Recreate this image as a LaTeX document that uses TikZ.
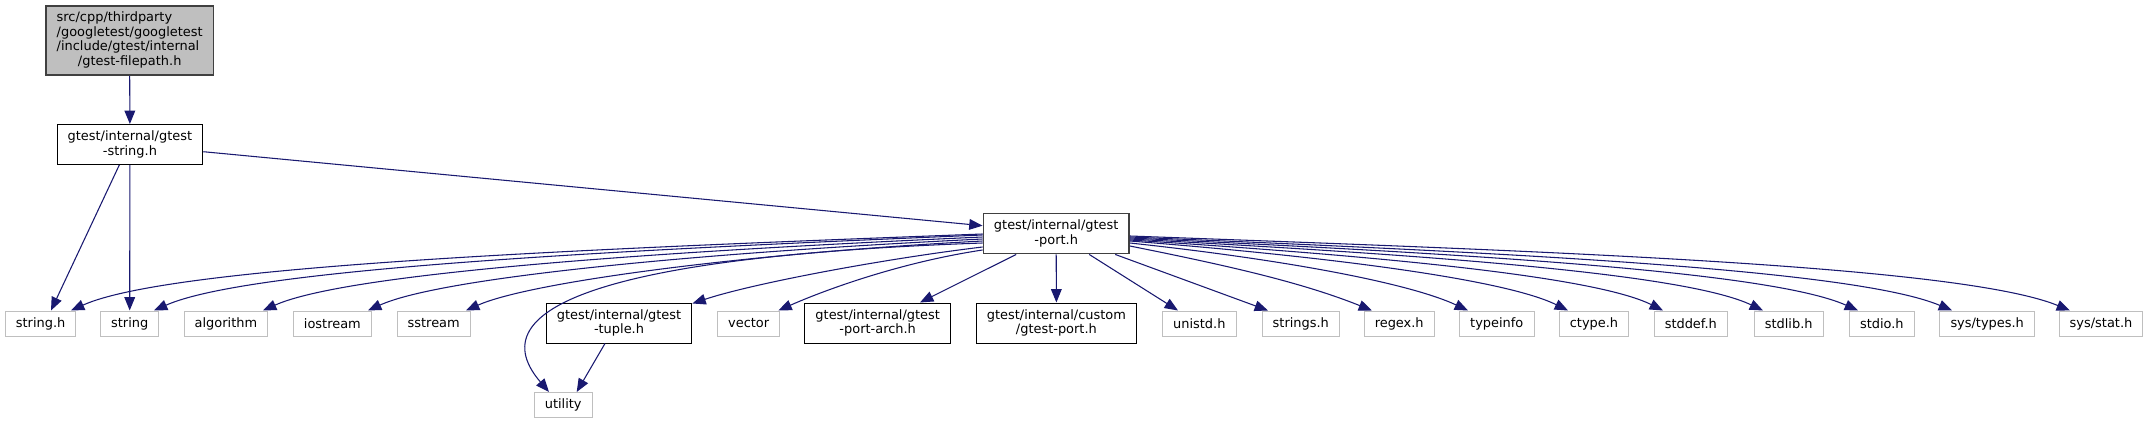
\documentclass[tikz,border=0pt]{standalone}
\usepackage{fontspec}
\setmainfont{DejaVu Sans}
\usepackage{tikz}
\usetikzlibrary{arrows.meta,positioning,calc}
\usepackage{xcolor}
\definecolor{edgeblue}{HTML}{191970}
\definecolor{boxgray} {HTML}{BFBFBF}
\definecolor{rimgray} {HTML}{404040}

\begin{document}
\begin{tikzpicture}[
      x=0.75pt, y=-0.75pt,
      every node/.style={font=\fontsize{9.7}{11}\selectfont},
      hdr/.style={
        draw=black, line width=0.75pt,
        inner xsep=8pt, inner ysep=0pt,
        minimum height=30pt, align=center
      },
      sys/.style={
        draw=boxgray, line width=0.75pt,
        inner xsep=8pt, inner ysep=0pt,
        minimum height=18.75pt
      },
      cur/.style={hdr, draw=rimgray, line width=1.1pt},
      dep/.style={edgeblue, line width=0.8pt, -{Triangle[length=10pt,width=8pt]}}
    ]
      \useasboundingbox (0,0) rectangle (2150,424);

      % headers
      \node[cur, fill=boxgray, minimum height=52pt] (root) at (129.7,40.5)
        {\begin{tabular}{@{}l@{}}src/cpp/thirdparty\\/googletest/googletest\\/include/gtest/internal\\\multicolumn{1}{@{}c@{}}{/gtest-filepath.h}\end{tabular}};
      \node[hdr] (gstring) at (129.9,144.5) {gtest/internal/gtest\\-string.h};
      \node[cur] (port) at (1056.2,233.7) {gtest/internal/gtest\\-port.h};

      \node[hdr] (tuple)    at (619,323)    {gtest/internal/gtest\\-tuple.h};
      \node[hdr] (portarch) at (877.7,323)  {gtest/internal/gtest\\-port-arch.h};
      \node[hdr] (custom)   at (1056.4,323) {gtest/internal/custom\\/gtest-port.h};

      % system headers
      \node[sys] (stringh)   at (40.6,323.5)   {string.h};
      \node[sys] (string)    at (129.7,323.5)  {string};
      \node[sys] (algorithm) at (225.9,323.5)  {algorithm};
      \node[sys] (iostream)  at (332.4,323.5)  {iostream};
      \node[sys] (sstream)   at (433.7,323.5)  {sstream};
      \node[sys] (vector)    at (748.7,323.5)  {vector};
      \node[sys] (unistd)    at (1199.3,323.5) {unistd.h};
      \node[sys] (strings)   at (1300.8,323.5) {strings.h};
      \node[sys] (regex)     at (1399.2,323.5) {regex.h};
      \node[sys] (typeinfo)  at (1496.8,323.5) {typeinfo};
      \node[sys] (ctype)     at (1594,323.5)   {ctype.h};
      \node[sys] (stddef)    at (1690.8,323.5) {stddef.h};
      \node[sys] (stdlib)    at (1788.7,323.5) {stdlib.h};
      \node[sys] (stdio)     at (1881.8,323.5) {stdio.h};
      \node[sys] (systypes)  at (1987.2,323.5) {sys/types.h};
      \node[sys] (sysstat)   at (2101,323.5)   {sys/stat.h};
      \node[sys] (utility)   at (563.2,405)    {utility};

      \draw[dep] (root.south) -- (gstring.north);
      \draw[dep] ($(gstring.east)+(0,7.2)$) -- ($(port.west)+(0,-8)$);
      \draw[dep] ($(gstring.south)+(-10.6,0)$) -- ($(stringh.north)+(10.4,0)$);
      \draw[dep] (gstring.south) -- (string.north);
      \draw[dep] ($(tuple.south)+(-14,0)$) -- ($(utility.north)+(13.5,0)$);

      % port.h, left fan
      \draw[dep] ($(port.west)+(0,0.3)$) .. controls +(-400,15) and +(100,-45) .. ($(stringh.north)+(30.4,0)$);
      \draw[dep] ($(port.west)+(0,1.3)$) .. controls +(-365,15) and +(95,-42) .. ($(string.north)+(24.3,0)$);
      \draw[dep] ($(port.west)+(0,3.3)$) .. controls +(-315,14) and +(85,-38) .. ($(algorithm.north)+(37.1,0)$);
      \draw[dep] ($(port.west)+(0,5.3)$) .. controls +(-270,13) and +(75,-34) .. ($(iostream.north)+(35.6,0)$);
      \draw[dep] ($(port.west)+(0,7.3)$) .. controls +(-230,12) and +(65,-29) .. ($(sstream.north)+(32.3,0)$);
      \draw[dep] ($(port.west)+(0,9.3)$) .. controls +(-343,12) and +(-79,-92) .. ($(utility.north)+(-14.2,0)$);
      \draw[dep] ($(port.west)+(0,13.3)$) .. controls +(-100,12) and +(60,-20) .. ($(tuple.north east)+(0,1)$);
      \draw[dep] ($(port.west)+(0,16.3)$) .. controls +(-80,12) and +(50,-22) .. ($(vector.north east)+(-2,0)$);

      % port.h, below
      \draw[dep] ($(port.south)+(-40,0)$) -- ($(portarch.north)+(42.3,0)$);
      \draw[dep] (port.south) -- (custom.north);
      \draw[dep] ($(port.south)+(33,0)$) -- ($(unistd.north)+(-21.3,0)$);
      \draw[dep] ($(port.south)+(59,0)$) -- ($(strings.north)+(-32.8,0)$);

      % port.h, right fan
      \draw[dep] ($(port.east)+(0,12.3)$) .. controls +(100,20) and +(-70,-28) .. ($(regex.north)+(-27.2,0)$);
      \draw[dep] ($(port.east)+(0,9.3)$) .. controls +(150,16) and +(-60,-28) .. ($(typeinfo.north)+(-28.8,0)$);
      \draw[dep] ($(port.east)+(0,7.3)$) .. controls +(190,15) and +(-65,-32) .. ($(ctype.north)+(-26,0)$);
      \draw[dep] ($(port.east)+(0,6.3)$) .. controls +(235,15) and +(-70,-35) .. ($(stddef.north)+(-27.8,0)$);
      \draw[dep] ($(port.east)+(0,5.3)$) .. controls +(280,15) and +(-80,-38) .. ($(stdlib.north)+(-25.7,0)$);
      \draw[dep] ($(port.east)+(0,4.3)$) .. controls +(320,15) and +(-90,-40) .. ($(stdio.north)+(-23.8,0)$);
      \draw[dep] ($(port.east)+(0,3.3)$) .. controls +(360,15) and +(-100,-42) .. ($(systypes.north)+(-35.2,0)$);
      \draw[dep] ($(port.east)+(0,2.3)$) .. controls +(414,15) and +(-110,-45) .. ($(sysstat.north)+(-31,0)$);
    \end{tikzpicture}
\end{document}
